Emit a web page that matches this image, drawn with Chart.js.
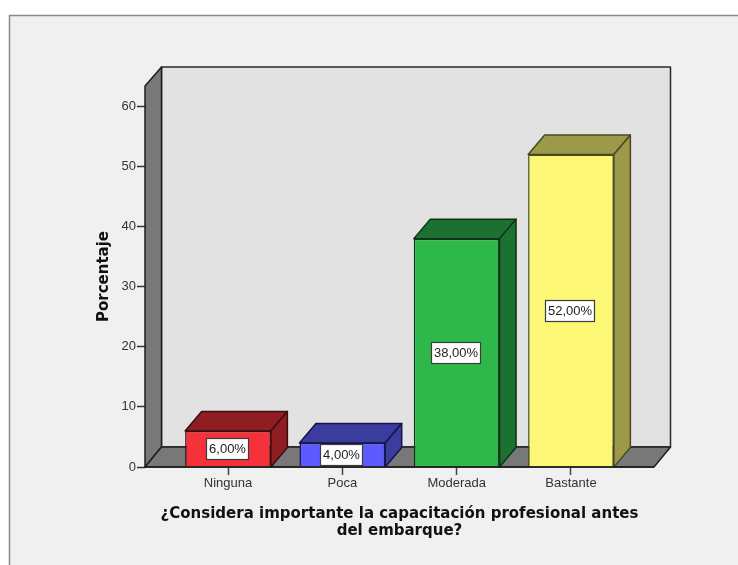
<!DOCTYPE html>
<html>
<head>
<meta charset="utf-8">
<script src="https://cdn.jsdelivr.net/npm/chart.js@4"></script>
<style>
  html, body { margin: 0; padding: 0; background: #fff; }
  canvas { display: block; }
</style>
</head>
<body>
<canvas id="chart" width="738" height="565"></canvas>
<script>
const categories = ['Ninguna', 'Poca', 'Moderada', 'Bastante'];
const percentages = [6, 4, 38, 52];
const valueLabels = ['6,00%', '4,00%', '38,00%', '52,00%'];
const yTicks = [0, 10, 20, 30, 40, 50, 60];
const frontColors = ['#f53239', '#5b5bff', '#2fb84a', '#fcf875'];
const sideColors = ['#8f1e22', '#3a3c9e', '#1c7030', '#9c9a48'];
const edgeColors = ['#3a0d0f', '#15154d', '#0c3516', '#4a4922'];

const BAR_DEPTH = { x: 16.5, y: 19.5 };
const WALL_DEPTH = { x: 16.5, y: 20 };

function polygon(ctx, pts, fill, stroke, width) {
  ctx.beginPath();
  pts.forEach((p, i) => (i ? ctx.lineTo(p[0], p[1]) : ctx.moveTo(p[0], p[1])));
  ctx.closePath();
  ctx.fillStyle = fill;
  ctx.fill();
  ctx.strokeStyle = stroke;
  ctx.lineWidth = width;
  ctx.lineJoin = 'round';
  ctx.stroke();
}

// Panel, walls and floor behind the bars, then the extruded faces of each bar.
const depthPlugin = {
  id: 'depth',
  beforeDraw(chart) {
    const { ctx, width, height } = chart;
    ctx.save();
    ctx.fillStyle = '#f0f0f0';
    ctx.fillRect(9, 15, width, height);
    ctx.strokeStyle = '#8c8c8c';
    ctx.lineWidth = 1.5;
    ctx.beginPath();
    ctx.moveTo(9.5, height + 2);
    ctx.lineTo(9.5, 15.5);
    ctx.lineTo(width + 2, 15.5);
    ctx.stroke();
    ctx.restore();
  },
  beforeDatasetsDraw(chart) {
    const { ctx, chartArea: a, scales } = chart;
    const base = scales.y.getPixelForValue(0);
    const d = WALL_DEPTH;
    ctx.save();
    polygon(ctx, [[a.left + d.x, a.top - d.y + 1], [a.right + d.x, a.top - d.y + 1], [a.right + d.x, base - d.y], [a.left + d.x, base - d.y]], '#e2e2e2', '#2a2a2a', 1.5);
    polygon(ctx, [[a.left, a.top], [a.left + d.x, a.top - d.y + 1], [a.left + d.x, base - d.y], [a.left, base]], '#787878', '#1e1e1e', 1.5);
    polygon(ctx, [[a.left, base], [a.left + d.x, base - d.y], [a.right + d.x, base - d.y], [a.right, base]], '#787878', '#1e1e1e', 1.5);

    const b = BAR_DEPTH;
    chart.getDatasetMeta(0).data.forEach((bar, i) => {
      const x0 = bar.x - bar.width / 2;
      const x1 = bar.x + bar.width / 2;
      polygon(ctx, [[x0, bar.y], [x0 + b.x, bar.y - b.y], [x1 + b.x, bar.y - b.y], [x1, bar.y]], sideColors[i], edgeColors[i], 1.5);
      polygon(ctx, [[x1, bar.y], [x1 + b.x, bar.y - b.y], [x1 + b.x, base - b.y], [x1, base]], sideColors[i], edgeColors[i], 1.5);
    });
    ctx.restore();
  },
  afterDatasetsDraw(chart) {
    const { ctx, scales } = chart;
    const base = scales.y.getPixelForValue(0);
    ctx.save();
    // Baseline over the foot of the bars, then the boxed value labels.
    ctx.strokeStyle = '#1e1e1e';
    ctx.lineWidth = 1.5;
    ctx.beginPath();
    ctx.moveTo(chart.chartArea.left, base);
    ctx.lineTo(chart.chartArea.right, base);
    ctx.stroke();

    ctx.font = '13px "Liberation Sans"';
    ctx.textAlign = 'center';
    ctx.textBaseline = 'middle';
    chart.getDatasetMeta(0).data.forEach((bar, i) => {
      const cy = (bar.y + base) / 2;
      const w = Math.round(ctx.measureText(valueLabels[i]).width) + 5;
      const h = 21;
      const left = Math.round(bar.x - 1 - w / 2) + 0.5;
      const top = Math.round(cy - h / 2) + 0.5;
      ctx.fillStyle = '#ffffff';
      ctx.fillRect(left, top, w, h);
      ctx.strokeStyle = '#3c3c3c';
      ctx.lineWidth = 1.2;
      ctx.strokeRect(left, top, w, h);
      ctx.fillStyle = '#222222';
      ctx.fillText(valueLabels[i], left + w / 2, cy + 0.5);
    });
    ctx.restore();
  }
};

new Chart(document.getElementById('chart'), {
  type: 'bar',
  data: {
    datasets: [{
      data: percentages.map((v, i) => ({ x: i, y: v })),
      backgroundColor: frontColors,
      borderColor: edgeColors,
      borderWidth: 1.5,
      categoryPercentage: 0.75,
      barPercentage: 1
    }]
  },
  options: {
    responsive: false,
    animation: false,
    layout: { padding: { top: 86, right: 84, left: 0, bottom: 0 } },
    plugins: { legend: { display: false }, tooltip: { enabled: false } },
    scales: {
      x: {
        type: 'linear',
        offset: false,
        min: -0.726,
        max: 3.726,
        afterBuildTicks(scale) { scale.ticks = categories.map((_, i) => ({ value: i })); },
        afterFit(scale) { scale.height = 98; },
        grid: { offset: false, drawOnChartArea: false, drawTicks: true, tickLength: 8, tickColor: '#444', tickWidth: 1.5 },
        border: { display: false },
        ticks: {
          autoSkip: false, maxRotation: 0, padding: 1,
          color: '#333', font: { family: '"Liberation Sans"', size: 13 },
          callback: v => categories[v]
        },
        title: {
          display: true,
          text: ['¿Considera importante la capacitación profesional antes', 'del embarque?'],
          color: '#111',
          font: { family: '"DejaVu Sans"', size: 15, weight: 'bold', lineHeight: 1.1 },
          padding: { top: 0, bottom: 26 }
        }
      },
      y: {
        min: 0,
        max: 63.4,
        afterBuildTicks(scale) { scale.ticks = yTicks.map(v => ({ value: v })); },
        afterFit(scale) { scale.width = 145; },
        grid: { drawOnChartArea: false, drawTicks: true, tickLength: 8, tickColor: '#333', tickWidth: 1.5 },
        border: { display: false },
        ticks: { padding: 1, color: '#333', font: { family: '"Liberation Sans"', size: 13 } },
        title: {
          display: true,
          text: 'Porcentaje',
          color: '#111',
          font: { family: '"DejaVu Sans"', size: 15, weight: 'bold' },
          padding: { top: 95, bottom: 0 }
        }
      }
    }
  },
  plugins: [depthPlugin]
});
</script>
</body>
</html>
